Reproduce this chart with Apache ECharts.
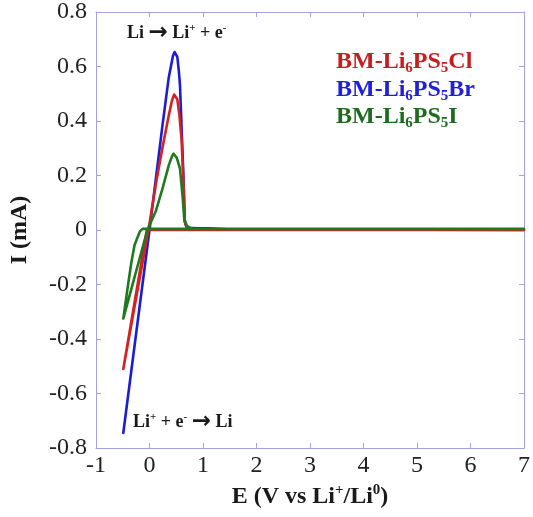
<!DOCTYPE html>
<html>
<head>
<meta charset="utf-8">
<script src="https://cdn.jsdelivr.net/npm/echarts@6/dist/echarts.min.js"></script>
<style>
  html, body { margin: 0; padding: 0; background: #fff; }
  #chart { width: 533px; height: 517px; }
</style>
</head>
<body>
<div id="chart"></div>
<script>
// Cyclic voltammetry of Li | BM-Li6PS5X | SS cells, potential (V) vs current (mA)
const clE = [7, -0.05, -0.49, -0.02, 0.12, 0.24, 0.36, 0.42, 0.46, 0.49, 0.52, 0.56, 0.60, 0.64, 0.66, 0.70, 0.90, 7];
const clI = [0, 0, -0.51, 0, 0.17, 0.30, 0.42, 0.475, 0.497, 0.50, 0.48, 0.42, 0.33, 0.15, 0.03, 0.006, 0.002, 0];

const brE = [-0.49, 0, 0.12, 0.24, 0.36, 0.44, 0.47, 0.49, 0.52, 0.55, 0.57, 0.63, 0.66, 0.69, 0.73, 0.90, 1.10, 1.45, 7];
const brI = [-0.745, 0, 0.19, 0.38, 0.56, 0.64, 0.653, 0.655, 0.635, 0.58, 0.53, 0.22, 0.03, 0.012, 0.008, 0.006, 0.006, 0.003, 0];

const iE = [7, -0.13, -0.18, -0.23, -0.28, -0.34, -0.40, -0.49, -0.04, 0.12, 0.24, 0.36, 0.42, 0.45, 0.47, 0.51, 0.57, 0.62, 0.65, 0.70, 0.78, 7];
const iI = [0.004, 0.004, -0.005, -0.03, -0.056, -0.12, -0.20, -0.325, 0, 0.07, 0.15, 0.237, 0.27, 0.28, 0.28, 0.265, 0.225, 0.12, 0.04, 0.015, 0.005, 0.004];

const xTicks = { min: -1, max: 7, interval: 1 };
const yTicks = { min: -0.8, max: 0.8, interval: 0.2 };

const seriesNames = ['BM-Li6PS5Br', 'BM-Li6PS5Cl', 'BM-Li6PS5I'];
const lineColors = ['#1c1cd2', '#d42222', '#1f7a1f'];
const textColors = ['#2020dc', '#c41e1e', '#1e6b1e'];

const serif = '"Liberation Serif", "Times New Roman", serif';
const axisColor = '#a3a3e2';

function pairs(xs, ys) { return xs.map((x, i) => [x, ys[i]]); }

function fmtY(v) {
  if (Math.abs(v) < 1e-9) return '0';
  return v.toFixed(1);
}

// rich-text styles: b = body, s = subscript, u = superscript, a = arrow
const richMain = (size, color) => {
  const small = Math.round(size * 0.62);
  const base = { fontFamily: serif, fontWeight: 'bold', color: color, fill: color };
  return {
    b: Object.assign({}, base, { fontSize: size, lineHeight: size + 4 }),
    s: Object.assign({}, base, { fontSize: small, lineHeight: Math.round(size * 0.5), verticalAlign: 'bottom' }),
    u: Object.assign({}, base, { fontSize: small, lineHeight: Math.round(size * 0.55), verticalAlign: 'top' }),
    a: Object.assign({}, base, { fontSize: Math.round(size * 1.25), lineHeight: size + 4, fontFamily: '"DejaVu Sans", sans-serif' })
  };
};

const legendRows = [
  { text: '{b|BM-Li}{s|6}{b|PS}{s|5}{b|Cl}', color: textColors[1], y: 50 },
  { text: '{b|BM-Li}{s|6}{b|PS}{s|5}{b|Br}', color: textColors[0], y: 78 },
  { text: '{b|BM-Li}{s|6}{b|PS}{s|5}{b|I}', color: textColors[2], y: 105 }
];

const chart = echarts.init(document.getElementById('chart'), null, { renderer: 'canvas' });

const gridBox = { left: 93, top: 10, right: 3, bottom: 69 };

chart.setOption({
  backgroundColor: '#ffffff',
  animation: false,
  grid: Object.assign({ containLabel: false }, gridBox),
  xAxis: [
    {
      type: 'value', min: xTicks.min, max: xTicks.max, interval: xTicks.interval,
      position: 'bottom',
      name: '{b|E (V vs Li}{u|+}{b|/Li}{u|0}{b|)}',
      nameLocation: 'middle', nameGap: 33,
      nameTextStyle: { rich: richMain(24, '#1a1a1a') },
      axisLine: { onZero: false, lineStyle: { color: axisColor, width: 1 } },
      axisTick: { inside: true, length: 5, lineStyle: { color: axisColor } },
      axisLabel: { margin: 6, fontFamily: serif, fontSize: 24, color: '#222' },
      splitLine: { show: false }
    },
    {
      type: 'value', min: xTicks.min, max: xTicks.max, interval: xTicks.interval,
      position: 'top',
      axisLine: { onZero: false, lineStyle: { color: axisColor, width: 1 } },
      axisTick: { inside: true, length: 5, lineStyle: { color: axisColor } },
      axisLabel: { show: false },
      splitLine: { show: false }
    }
  ],
  yAxis: [
    {
      type: 'value', min: yTicks.min, max: yTicks.max, interval: yTicks.interval,
      position: 'left',
      name: 'I (mA)', nameLocation: 'middle', nameGap: 64, nameRotate: 90,
      nameTextStyle: { fontFamily: serif, fontWeight: 'bold', fontSize: 24, color: '#1a1a1a' },
      axisLine: { onZero: false, lineStyle: { color: axisColor, width: 1 } },
      axisTick: { inside: true, length: 5, lineStyle: { color: axisColor } },
      axisLabel: { margin: 9, fontFamily: serif, fontSize: 24, color: '#222', formatter: fmtY },
      splitLine: { show: false }
    },
    {
      type: 'value', min: yTicks.min, max: yTicks.max, interval: yTicks.interval,
      position: 'right',
      axisLine: { onZero: false, lineStyle: { color: axisColor, width: 1 } },
      axisTick: { inside: true, length: 5, lineStyle: { color: axisColor } },
      axisLabel: { show: false },
      splitLine: { show: false }
    }
  ],
  series: [
    { name: seriesNames[0], type: 'line', data: pairs(brE, brI), color: lineColors[0] },
    { name: seriesNames[1], type: 'line', data: pairs(clE, clI), color: lineColors[1] },
    { name: seriesNames[2], type: 'line', data: pairs(iE, iI), color: lineColors[2] }
  ].map(s => Object.assign(s, {
    showSymbol: false, symbol: 'none', smooth: false,
    lineStyle: { width: 2.6, color: s.color, cap: 'round', join: 'round' }
  })),
  graphic: [
    {
      type: 'text', left: 127, top: 22,
      style: { text: '{b|Li }{a|\u2192}{b| Li}{u|+}{b| + e}{u|-}', rich: richMain(18, '#1a1a1a') }
    },
    {
      type: 'text', left: 133, top: 411,
      style: { text: '{b|Li}{u|+}{b| + e}{u|-}{b| }{a|\u2192}{b| Li}', rich: richMain(18, '#1a1a1a') }
    }
  ].concat(legendRows.map(r => ({
    type: 'text', left: 336, top: r.y,
    style: { text: r.text, rich: richMain(24, r.color) }
  })))
});
</script>
</body>
</html>
